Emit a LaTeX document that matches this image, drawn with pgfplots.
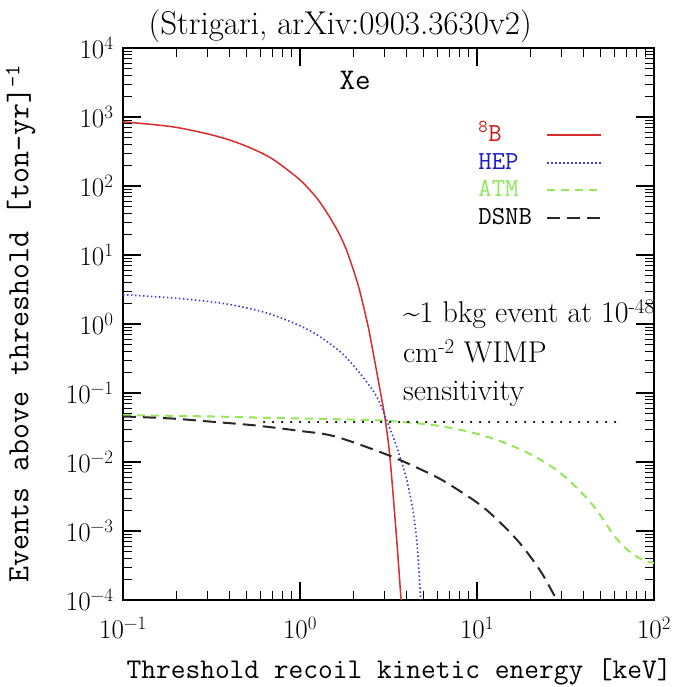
\documentclass[border=0pt]{standalone}
\usepackage{fontspec}
\usepackage{pgfplots}
\pgfplotsset{compat=1.18}
\definecolor{cred}{RGB}{215,45,45}
\definecolor{cblue}{RGB}{60,60,215}
\definecolor{cgreen}{RGB}{150,230,90}
\definecolor{cblack}{RGB}{40,40,40}
\definecolor{tred}{RGB}{200,25,25}
\definecolor{tblue}{RGB}{25,25,200}
\definecolor{tgreen}{RGB}{140,230,90}
\tikzset{tk/.style={black, line width=1.1pt}}
\begin{document}
\begin{tikzpicture}
\begin{axis}[name=ax,
  xmode=log, ymode=log,
  scale only axis, width=531pt, height=552pt,
  xmin=0.1, xmax=100, ymin=1e-4, ymax=1e4,
  axis line style={line width=1.6pt},
  major tick length=0pt, minor tick length=0pt,
  xtick={0.1,1,10,100},
  ytick={1e-4,1e-3,1e-2,1e-1,1,10,100,1000,10000},
  xticklabels={10\textsuperscript{−1},10\textsuperscript{0},10\textsuperscript{1},10\textsuperscript{2}},
  yticklabels={10\textsuperscript{−4},10\textsuperscript{−3},10\textsuperscript{−2},10\textsuperscript{−1},10\textsuperscript{0},10\textsuperscript{1},10\textsuperscript{2},10\textsuperscript{3},10\textsuperscript{4}},
  tick label style={font=\fontsize{27}{30}\selectfont},
  xticklabel style={yshift=-13pt},
  yticklabel style={xshift=-6pt},
  every axis x label/.style={at={(axis description cs:0.52,0)}, anchor=base, yshift=-78pt, font=\ttfamily\fontsize{28.6}{32}\selectfont},
  every axis y label/.style={at={(axis description cs:-0.178,0.5)}, anchor=base, rotate=90, font=\ttfamily\fontsize{31}{34}\selectfont},
  xlabel={Threshold recoil kinetic energy [keV]},
  ylabel={Events above threshold [ton-yr]\textsuperscript{-1}},
  legend style={draw=none, fill=none, at={(axis description cs:0.669,0.865)}, anchor=north west,
    font=\ttfamily\fontsize{26}{28}\selectfont, row sep=2.5pt, column sep=14pt, inner sep=0pt,
    nodes={inner sep=0pt, text height=19pt, text depth=6pt}},
  legend cell align=left,
  legend plot pos=right,
  legend image code/.code={\draw[#1] (0pt,0pt) -- (54pt,0pt);},
]
\addplot[cred, line width=1.5pt, smooth] coordinates {
(0.1,851) (0.1995,708) (0.3855,479) (0.650,275) (0.957,135) (1.148,85.1) (1.300,57.5)
(1.479,34.7) (1.679,19.5) (1.862,10.5) (2.138,3.55) (2.360,1.26) (2.477,0.708) (2.831,0.112)
(3.020,0.0437) (3.199,0.0141) (3.365,0.00316) (3.548,0.000562) (3.724,0.0001)};
\addlegendentry{\textcolor{tred}{\textsuperscript{8}B}}
\addplot[cblue, line width=1.6pt, dash pattern=on 1.5pt off 2.5pt, smooth] coordinates {
(0.1,2.66) (0.201,2.36) (0.385,1.95) (0.676,1.40) (1.138,0.80) (1.68,0.40) (2.18,0.193)
(2.71,0.089) (3.08,0.041) (3.52,0.0166) (4.01,0.0055) (4.37,0.00182) (4.60,0.00059) (4.81,0.0001)};
\addlegendentry{\textcolor{tblue}{HEP}}
\addplot[cgreen, line width=2pt, dash pattern=on 8pt off 6pt, smooth] coordinates {
(0.1,0.0479) (0.316,0.0457) (0.649,0.0437) (1.585,0.0417) (2.95,0.0398) (5.64,0.0344)
(9.12,0.0272) (13.5,0.0201) (19.9,0.0131) (27.6,0.00792) (35.8,0.00449) (46.5,0.00215)
(60.3,0.000818) (73.2,0.000496) (86.7,0.00038) (100,0.000344)};
\addlegendentry{\textcolor{tgreen}{ATM}}
\addplot[cblack, line width=2pt, dash pattern=on 13pt off 7pt, smooth] coordinates {
(0.1,0.0457) (0.188,0.0427) (0.331,0.038) (0.557,0.0339) (1.0,0.0282) (1.585,0.0234)
(3.22,0.0123) (5.42,0.00676) (7.03,0.00468) (10.9,0.00219) (16.7,0.00076) (22.7,0.000269) (28.2,0.0001)};
\addlegendentry{DSNB}
\addplot[black, line width=2.4pt, line cap=round, dash pattern=on 0pt off 9pt, forget plot] coordinates {(0.627,0.038) (65.7,0.038)};
% tick marks (inside, all four sides)
\pgfplotsinvokeforeach{1e-3,1e-2,1e-1,1,10,100,1000}{
  \addplot[tk, forget plot] coordinates {(0.1,#1) (0.1264,#1)};
  \addplot[tk, forget plot] coordinates {(79.11,#1) (100,#1)};
}
\pgfplotsinvokeforeach{2e-4,3e-4,4e-4,5e-4,6e-4,7e-4,8e-4,9e-4,
    2e-3,3e-3,4e-3,5e-3,6e-3,7e-3,8e-3,9e-3,
    2e-2,3e-2,4e-2,5e-2,6e-2,7e-2,8e-2,9e-2,
    0.2,0.3,0.4,0.5,0.6,0.7,0.8,0.9,2,3,4,5,6,7,8,9,
    20,30,40,50,60,70,80,90,200,300,400,500,600,700,800,900,
    2000,3000,4000,5000,6000,7000,8000,9000}{
  \addplot[tk, forget plot] coordinates {(0.1,#1) (0.1124,#1)};
  \addplot[tk, forget plot] coordinates {(88.97,#1) (100,#1)};
}
\pgfplotsinvokeforeach{1,10}{
  \addplot[tk, forget plot] coordinates {(#1,1e-4) (#1,1.823e-4)};
  \addplot[tk, forget plot] coordinates {(#1,5485) (#1,1e4)};
}
\pgfplotsinvokeforeach{0.2,0.3,0.4,0.5,0.6,0.7,0.8,0.9,2,3,4,5,6,7,8,9,20,30,40,50,60,70,80,90}{
  \addplot[tk, forget plot] coordinates {(#1,1e-4) (#1,1.35e-4)};
  \addplot[tk, forget plot] coordinates {(#1,7407) (#1,1e4)};
}
\end{axis}
\path (ax.south west) ++(232pt,519.6pt) node[font=\ttfamily\fontsize{30}{32}\selectfont] {Xe};
\path (ax.south west) ++(217.2pt,565pt) node[anchor=base, font=\fontsize{33}{36}\selectfont] {(Strigari, arXiv:0903.3630v2)};
\path (ax.south west) ++(279.8pt,277.1pt) node[anchor=base west, inner sep=0pt, font=\fontsize{30}{34}\selectfont] {\textasciitilde 1 bkg event at 10\textsuperscript{-48}};
\path (ax.south west) ++(279.8pt,237.9pt) node[anchor=base west, inner sep=0pt, font=\fontsize{30}{34}\selectfont] {cm\textsuperscript{-2} WIMP};
\path (ax.south west) ++(279.8pt,199.8pt) node[anchor=base west, inner sep=0pt, font=\fontsize{30}{34}\selectfont] {sensitivity};
\pgfresetboundingbox
\path (ax.south west) ++(-123pt,-87pt) rectangle ++(681pt,687pt);
\end{tikzpicture}
\end{document}
